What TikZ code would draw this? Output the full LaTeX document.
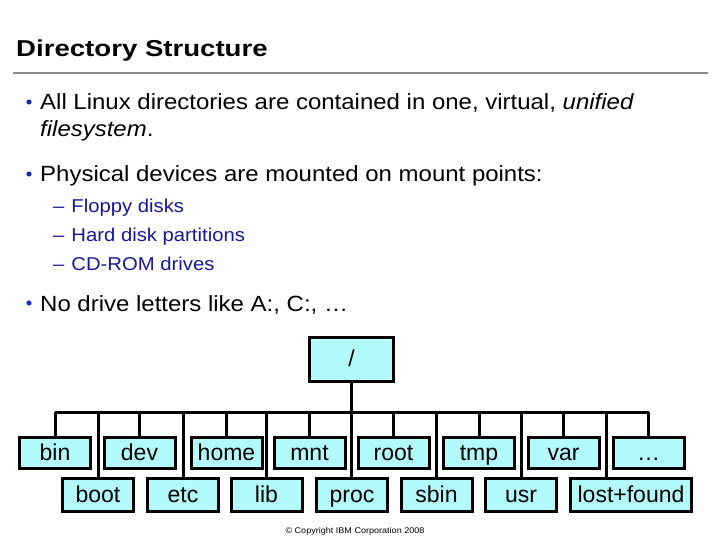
\documentclass[tikz,border=0pt]{standalone}
\usepackage{fontspec}
\setmainfont{Liberation Sans}[FakeStretch=1.09]
\newfontfamily\titlefont{Liberation Sans}[FakeStretch=1.2]
\newfontfamily\treefont{Liberation Sans}
\definecolor{dircyan}{RGB}{178,250,252}
\definecolor{subblue}{RGB}{24,24,150}
\definecolor{dotblue}{RGB}{20,40,200}
\definecolor{rulegray}{RGB}{140,140,140}

\begin{document}
\begin{tikzpicture}
[x=1pt,y=-1pt,%
  every node/.style={inner sep=0pt},%
  dirbox/.style={draw,line width=3pt,fill=dircyan,minimum width=71pt,%
    minimum height=31pt,text height=17pt,text depth=3pt,%
    font=\treefont\fontsize{23}{23}\selectfont},%
  lowbox/.style={dirbox,minimum height=33pt},%
  bullettext/.style={anchor=base west,font=\fontsize{22}{22}\selectfont},%
  subtext/.style={anchor=base west,text=subblue,font=\fontsize{18.6}{18.6}\selectfont},%
  link/.style={line width=3pt}]
\useasboundingbox (0,0) rectangle (720,540);
% heading
\node[anchor=base west,font=\titlefont\bfseries\fontsize{23}{23}\selectfont]
  (title) at (16,57) {Directory Structure};
\draw[rulegray,line width=1.2pt] (13,73) -- (708,73);
% bullets
\fill[dotblue] (29,102) circle (2.6);
\node[bullettext] (all) at (40,110)
  {All Linux directories are contained in one, virtual, \textit{unified}};
\node[bullettext] (fs) at (40,137) {\textit{filesystem}.};
\fill[dotblue] (29,174) circle (2.6);
\node[bullettext] (phys) at (40,182)
  {Physical devices are mounted on mount points:};
\node[subtext] (floppy) at (53,212) {–\hspace{7pt}Floppy disks};
\node[subtext] (hard) at (53,241) {–\hspace{7pt}Hard disk partitions};
\node[subtext] (cdrom) at (53,270) {–\hspace{7pt}CD-ROM drives};
\fill[dotblue] (29,303) circle (2.6);
\node[bullettext] (nodrive) at (40,311.5) {No drive letters like A:, C:, …};
% tree
\node[dirbox,minimum width=84pt,minimum height=44pt] (slash) at (351.5,359.5) {/};
\node[dirbox] (bin) at (55,453) {bin};
\node[dirbox] (dev) at (139.5,453) {dev};
\node[dirbox] (home) at (226.5,453) {home};
\node[dirbox] (mnt) at (309.5,453) {mnt};
\node[dirbox] (rootdir) at (393.5,453) {root};
\node[dirbox] (tmp) at (479,453) {tmp};
\node[dirbox] (var) at (563.5,453) {var};
\node[dirbox] (more) at (648.5,453) {…};
\node[lowbox] (boot) at (98,495) {boot};
\node[lowbox] (etc) at (183,495) {etc};
\node[lowbox] (lib) at (266.5,495) {lib};
\node[lowbox] (proc) at (352,495) {proc};
\node[lowbox] (sbin) at (436.5,495) {sbin};
\node[lowbox] (usr) at (521,495) {usr};
\node[lowbox,minimum width=121pt] (lostfound) at (631,495) {lost+found};
\coordinate (bus) at (0,412);
\coordinate (lfdrop) at (606,412);
\draw[link] (bin.north |- bus) -- (more.north |- bus);
\draw[link] (slash.south) -- (slash.south |- proc.north);
\draw[link] (bin.north) -- (bin.north |- bus);
\draw[link] (dev.north) -- (dev.north |- bus);
\draw[link] (home.north) -- (home.north |- bus);
\draw[link] (mnt.north) -- (mnt.north |- bus);
\draw[link] (rootdir.north) -- (rootdir.north |- bus);
\draw[link] (tmp.north) -- (tmp.north |- bus);
\draw[link] (var.north) -- (var.north |- bus);
\draw[link] (more.north) -- (more.north |- bus);
\draw[link] (boot.north) -- (boot.north |- bus);
\draw[link] (etc.north) -- (etc.north |- bus);
\draw[link] (lib.north) -- (lib.north |- bus);
\draw[link] (sbin.north) -- (sbin.north |- bus);
\draw[link] (usr.north) -- (usr.north |- bus);
\draw[link] (lfdrop) -- (lfdrop |- lostfound.north);
\node[font=\fontsize{8.3}{8.3}\selectfont] (copy) at (355,531)
  {© Copyright IBM Corporation 2008};
\end{tikzpicture}
\end{document}
